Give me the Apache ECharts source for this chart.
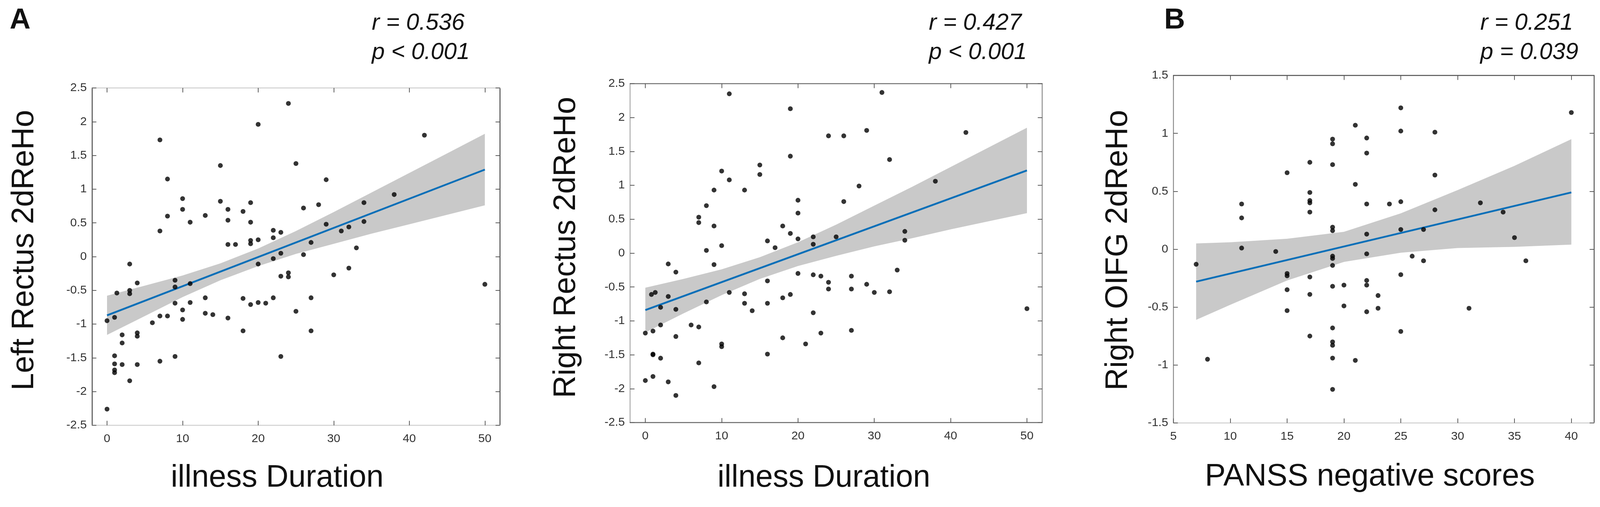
<!DOCTYPE html>
<html>
<head>
<meta charset="utf-8">
<title>2dReHo correlations</title>
<script src="https://cdn.jsdelivr.net/npm/echarts@6/dist/echarts.min.js"></script>
<style>
  html, body { margin: 0; padding: 0; background: #fff; overflow: hidden; }
  #chart { width: 100vw; height: 100vh; }
</style>
</head>
<body>
<div id="chart"></div>
<script>
// panel A (left): left rectus vs illness duration
const durationA = [0, 0, 1, 1, 1, 1, 1, 1.3, 2, 2, 2, 3, 3, 3, 3, 4, 4, 4, 4, 6, 7, 7, 7, 7, 8, 8, 8, 9, 9, 9, 9,
  10, 10, 10, 10, 11, 11, 11, 13, 13, 13, 14, 15, 15, 16, 16, 16, 16, 17, 18, 18, 18, 19, 19, 19, 19, 19,
  20, 20, 20, 20, 21, 22, 22, 22, 22, 23, 23, 23, 23, 24, 24, 24, 25, 25, 26, 26, 27, 27, 27, 28, 29, 29,
  30, 31, 32, 32, 33, 34, 34, 38, 42, 50];
const rehoA = [-2.26, -0.95, -0.9, -1.47, -1.59, -1.68, -1.72, -0.54, -1.16, -1.28, -1.6, -0.11, -0.5, -0.55, -1.84,
  -0.39, -1.13, -1.18, -1.6, -0.98, 1.73, 0.38, -0.88, -1.55, 1.15, 0.6, -0.88, -0.35, -0.45, -0.69, -1.48,
  0.86, 0.7, -0.79, -0.93, 0.51, -0.4, -0.68, 0.61, -0.61, -0.84, -0.86, 1.35, 0.82, 0.7, 0.54, 0.18, -0.91,
  0.18, 0.67, -0.62, -1.1, 0.8, 0.51, 0.24, 0.19, -0.71, 1.96, 0.25, -0.11, -0.68, -0.69, 0.39, 0.28, -0.03,
  -0.61, 0.36, 0.05, -0.29, -1.48, 2.27, -0.24, -0.3, 1.38, -0.81, 0.72, 0.03, 0.21, -0.61, -1.1, 0.77, 1.14,
  0.48, -0.27, 0.38, 0.44, -0.17, 0.13, 0.8, 0.52, 0.92, 1.8, -0.41];
const fitA = [[0, -0.87], [50, 1.29]];
const bandXA = [0, 5, 10, 15, 20, 25, 30, 35, 40, 45, 50];
const bandUpperA = [-0.58, -0.43, -0.28, -0.1, 0.12, 0.38, 0.66, 0.95, 1.24, 1.53, 1.82];
const bandLowerA = [-1.16, -0.88, -0.6, -0.35, -0.14, 0.04, 0.19, 0.34, 0.48, 0.62, 0.76];

// middle panel: right rectus vs illness duration
const durationR = [0, 0, 0.8, 1.3, 1, 1, 1, 1, 2, 2, 2, 3, 3, 3, 4, 4, 4, 4, 6, 7, 7, 7, 7, 8, 8, 8, 9, 9, 9, 9,
  10, 10, 10, 10, 11, 11, 11, 13, 13, 13, 14, 15, 15, 16, 16, 16, 16, 17, 18, 18, 18, 19, 19, 19, 19,
  20, 20, 20, 20, 21, 22, 22, 22, 22, 23, 23, 24, 24, 24, 25, 26, 26, 27, 27, 27, 28, 29, 29, 30, 31,
  32, 32, 33, 34, 34, 38, 42, 50];
const rehoR = [-1.18, -1.88, -0.61, -0.58, -1.15, -1.49, -1.5, -1.82, -0.8, -1.06, -1.55, -0.16, -0.64, -1.9,
  -0.28, -0.83, -1.23, -2.1, -1.06, 0.53, 0.45, -1.09, -1.62, 0.7, 0.04, -0.72, 0.93, 0.4, -0.17, -1.97,
  1.21, 0.11, -1.34, -1.38, 2.35, 1.08, -0.58, 0.93, -0.6, -0.74, -0.85, 1.3, 1.16, 0.18, -0.41, -0.74, -1.49,
  0.08, 0.4, -0.66, -1.25, 2.13, 1.43, 0.29, -0.61, 0.78, 0.59, 0.21, -0.3, -1.34, 0.24, 0.13, -0.32, -0.88,
  -0.34, -1.18, 1.73, -0.43, -0.53, 0.24, 1.73, 0.76, -0.34, -0.53, -1.14, 0.99, 1.81, -0.46, -0.58, 2.37,
  1.38, -0.57, -0.25, 0.32, 0.19, 1.06, 1.78, -0.82];
const fitR = [[0, -0.84], [50, 1.22]];
const bandXR = [0, 5, 10, 15, 20, 25, 30, 35, 40, 45, 50];
const bandUpperR = [-0.51, -0.38, -0.24, -0.06, 0.16, 0.42, 0.7, 0.98, 1.27, 1.56, 1.85];
const bandLowerR = [-1.17, -0.89, -0.62, -0.38, -0.19, -0.04, 0.1, 0.22, 0.35, 0.47, 0.59];

// panel B: right OIFG vs PANSS negative
const panssB = [7, 8, 11, 11, 11, 14, 15, 15, 15, 15, 15, 17, 17, 17, 17, 17, 17, 17, 17,
  19, 19, 19, 19, 19, 19, 19, 19, 19, 19, 19, 19, 19, 19, 20, 20, 21, 21, 21,
  22, 22, 22, 22, 22, 22, 22, 22, 23, 23, 24, 25, 25, 25, 25, 25, 25, 26, 27, 27,
  28, 28, 28, 31, 32, 34, 35, 36, 40];
const rehoB = [-0.13, -0.95, 0.39, 0.27, 0.01, -0.02, 0.66, -0.21, -0.23, -0.35, -0.53,
  0.75, 0.49, 0.42, 0.4, 0.32, -0.24, -0.39, -0.75,
  0.95, 0.91, 0.73, 0.19, 0.16, -0.06, -0.08, -0.14, -0.32, -0.68, -0.8, -0.83, -0.94, -1.21,
  -0.31, -0.49, 1.07, 0.56, -0.96,
  0.96, 0.83, 0.39, 0.13, -0.04, -0.27, -0.31, -0.54, -0.4, -0.51, 0.39,
  1.22, 1.02, 0.41, 0.17, -0.22, -0.71, -0.06, 0.17, -0.1,
  1.01, 0.64, 0.34, -0.51, 0.4, 0.32, 0.1, -0.1, 1.18];
const fitB = [[7, -0.28], [40, 0.49]];
const bandXB = [7, 10, 15, 20, 25, 30, 35, 40];
const bandUpperB = [0.05, 0.06, 0.09, 0.15, 0.31, 0.51, 0.72, 0.95];
const bandLowerB = [-0.61, -0.48, -0.27, -0.11, -0.03, 0.01, 0.02, 0.04];

const durationTicks = [0, 10, 20, 30, 40, 50];
const panssTicks = [5, 10, 15, 20, 25, 30, 35, 40];

const font = "'Liberation Sans', Arial, Helvetica, sans-serif";

// layout is measured on a 4317 x 1297 frame and scaled to the real window
const baseW = 4317;
const baseH = 1297;
const el = document.getElementById("chart");
const kx = (el.clientWidth || window.innerWidth) / baseW;
const ky = (el.clientHeight || window.innerHeight) / baseH;
const kf = Math.min(kx, ky);
const px = (v) => v * kx;
const py = (v) => v * ky;
const pf = (v) => v * kf;

const panels = [
  {
    x: durationA, y: rehoA, fit: fitA, bandX: bandXA, upper: bandUpperA, lower: bandLowerA,
    xMin: -2, xMax: 52, xTicks: durationTicks, yMin: -2.5, yMax: 2.5,
    grid: { left: 248, top: 225, width: 1101, height: 863 },
    frame: { left: "#454545", right: "#454545", top: "#cfcfcf", bottom: "#cfcfcf" },
    label: "A", labelX: 26,
    stats: ["r = 0.536", "p < 0.001"], statsX: 1003,
    xTitle: "illness Duration", xTitleX: 748, xTitleBase: 1250,
    yTitle: "Left Rectus 2dReHo", yTitleX: 66, yTitleY: 640,
  },
  {
    x: durationR, y: rehoR, fit: fitR, bandX: bandXR, upper: bandUpperR, lower: bandLowerR,
    xMin: -2, xMax: 52, xTicks: durationTicks, yMin: -2.5, yMax: 2.5,
    grid: { left: 1700, top: 214, width: 1112, height: 867 },
    frame: { left: "#a8a8a8", right: "#8a8a8a", top: "#707070", bottom: "#666666" },
    stats: ["r = 0.427", "p < 0.001"], statsX: 2506,
    xTitle: "illness Duration", xTitleX: 2223, xTitleBase: 1250,
    yTitle: "Right Rectus 2dReHo", yTitleX: 1528, yTitleY: 633,
  },
  {
    x: panssB, y: rehoB, fit: fitB, bandX: bandXB, upper: bandUpperB, lower: bandLowerB,
    xMin: 5, xMax: 42, xTicks: panssTicks, yMin: -1.5, yMax: 1.5,
    grid: { left: 3166, top: 193, width: 1135, height: 889 },
    frame: { left: "#8a8a8a", right: "#4f4f4f", top: "#4f4f4f", bottom: "#cfcfcf" },
    label: "B", labelX: 3141,
    stats: ["r = 0.251", "p = 0.039"], statsX: 3994,
    xTitle: "PANSS negative scores", xTitleX: 3696, xTitleBase: 1247,
    yTitle: "Right OIFG 2dReHo", yTitleX: 3017, yTitleY: 640,
  },
];

function xAxisFor(panel, index, top) {
  return {
    type: "value",
    gridIndex: index,
    position: top ? "top" : "bottom",
    min: panel.xMin,
    max: panel.xMax,
    axisLine: { show: true, onZero: false, lineStyle: { color: top ? panel.frame.top : panel.frame.bottom, width: pf(2.5) } },
    axisTick: { show: true, inside: true, length: pf(12), customValues: panel.xTicks, lineStyle: { color: "#555", width: pf(2) } },
    axisLabel: {
      show: !top, customValues: panel.xTicks, margin: py(20),
      fontSize: pf(32), color: "#333", fontFamily: font,
    },
    splitLine: { show: false },
  };
}

function yAxisFor(panel, index, right) {
  return {
    type: "value",
    gridIndex: index,
    position: right ? "right" : "left",
    min: panel.yMin,
    max: panel.yMax,
    interval: 0.5,
    axisLine: { show: true, onZero: false, lineStyle: { color: right ? panel.frame.right : panel.frame.left, width: pf(2.5) } },
    axisTick: { show: true, inside: true, length: pf(12), lineStyle: { color: "#555", width: pf(2) } },
    axisLabel: { show: !right, margin: px(14), fontSize: pf(32), color: "#333", fontFamily: font },
    splitLine: { show: false },
  };
}

function bandSeries(panel, index) {
  return {
    type: "custom",
    xAxisIndex: index * 2,
    yAxisIndex: index * 2,
    z: 1,
    silent: true,
    data: [[panel.bandX[0], panel.lower[0]]],
    renderItem: (params, api) => {
      const top = panel.bandX.map((x, i) => api.coord([x, panel.upper[i]]));
      const bottom = panel.bandX.map((x, i) => api.coord([x, panel.lower[i]])).reverse();
      return {
        type: "polygon",
        shape: { points: top.concat(bottom) },
        style: { fill: "#c9c9c9", stroke: null },
      };
    },
  };
}

function textEl(text, x, y, size, opts = {}) {
  return {
    type: "text",
    x: px(x),
    y: py(y),
    rotation: opts.rotation || 0,
    z: 10,
    style: {
      text,
      fill: "#111",
      font: `${opts.style || "normal"} ${opts.weight || "normal"} ${pf(size)}px ${font}`,
      align: opts.align || "left",
      verticalAlign: opts.verticalAlign || "middle",
    },
  };
}

const grids = [];
const xAxes = [];
const yAxes = [];
const series = [];
const graphic = [];

panels.forEach((panel, index) => {
  const g = panel.grid;
  grids.push({
    left: px(g.left), top: py(g.top), width: px(g.width), height: py(g.height),
    containLabel: false, outerBoundsMode: "none",
  });
  xAxes.push(xAxisFor(panel, index, false), xAxisFor(panel, index, true));
  yAxes.push(yAxisFor(panel, index, false), yAxisFor(panel, index, true));
  series.push(bandSeries(panel, index));
  series.push({
    type: "line",
    xAxisIndex: index * 2,
    yAxisIndex: index * 2,
    z: 2,
    symbol: "none",
    data: panel.fit,
    lineStyle: { color: "#0a6fb8", width: pf(5) },
  });
  series.push({
    type: "scatter",
    xAxisIndex: index * 2,
    yAxisIndex: index * 2,
    z: 3,
    symbolSize: pf(13),
    itemStyle: { color: "#000" },
    data: panel.x.map((x, i) => [x, panel.y[i]]),
  });

  if (panel.label) {
    graphic.push(textEl(panel.label, panel.labelX, 53, 78, { weight: "bold" }));
  }
  graphic.push(textEl(panel.stats[0], panel.statsX, 59, 63, { style: "italic" }));
  graphic.push(textEl(panel.stats[1], panel.statsX, 134, 63, { style: "italic" }));
  graphic.push(textEl(panel.xTitle, panel.xTitleX, panel.xTitleBase - 27, 84, { align: "center" }));
  graphic.push(textEl(panel.yTitle, panel.yTitleX, panel.yTitleY, 84, { align: "center", rotation: Math.PI / 2 }));
});

const chart = echarts.init(el, null, { renderer: "canvas" });
chart.setOption({
  backgroundColor: "#fff",
  animation: false,
  grid: grids,
  xAxis: xAxes,
  yAxis: yAxes,
  series,
  graphic,
});
window.addEventListener("resize", () => chart.resize());
</script>
</body>
</html>
